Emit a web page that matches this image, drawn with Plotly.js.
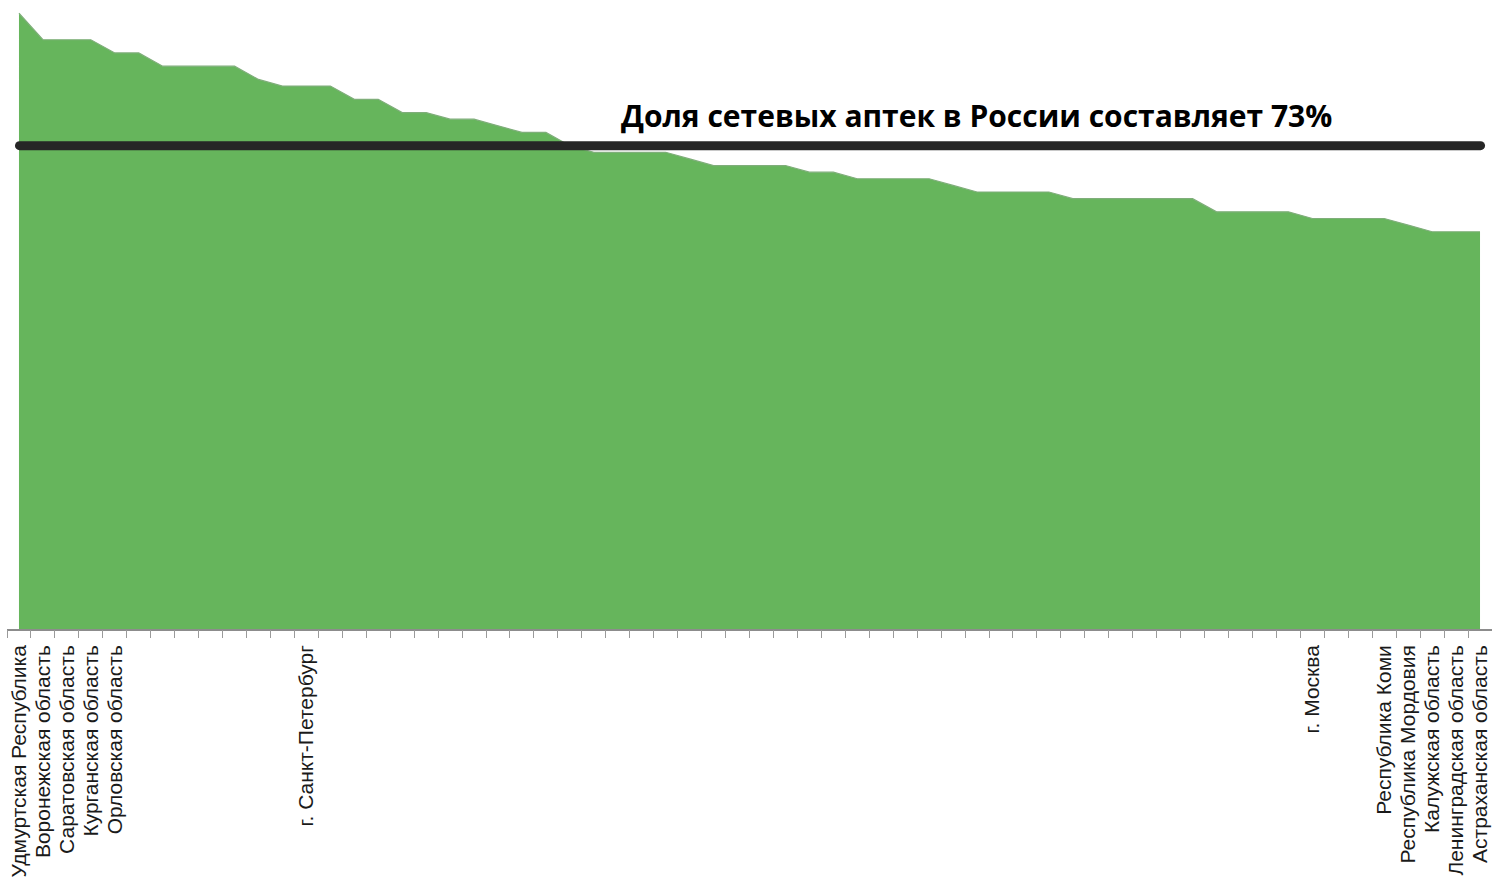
<!DOCTYPE html>
<html>
<head>
<meta charset="utf-8">
<script src="https://cdn.plot.ly/plotly-3.0.1.min.js"></script>
<style>
html,body{margin:0;padding:0;background:#fff;}
#chart{width:1492px;height:883px;}
.shapelayer path{stroke-linecap:round;}
</style>
</head>
<body>
<div id="chart"></div>
<script>
// Regions ordered by share of chain pharmacies (%); only some are labelled on the axis
const regionLabels = [
  "Удмуртская Республика","Воронежская область","Саратовская область","Курганская область","Орловская область",
  "","","","","","","","г. Санкт-Петербург","","","","","","","",
  "","","","","","","","","","","","","","","","","","","","",
  "","","","","","","","","","","","","","","г. Москва","","","Республика Коми","Республика Мордовия","Калужская область",
  "Ленинградская область","Астраханская область"
];
const shareValues = [
  93, 89, 89, 89, 87, 87, 85, 85, 85, 85,
  83, 82, 82, 82, 80, 80, 78, 78, 77, 77,
  76, 75, 75, 73, 72, 72, 72, 72, 71, 70,
  70, 70, 70, 69, 69, 68, 68, 68, 68, 67,
  66, 66, 66, 66, 65, 65, 65, 65, 65, 65,
  63, 63, 63, 63, 62, 62, 62, 62, 61, 60,
  60, 60
];
const russiaAverage = 73;
const titleText = "Доля сетевых аптек в России составляет " + russiaAverage + "%";

const xIdx = shareValues.map((_, i) => i);
const labelledIdx = xIdx.filter(i => regionLabels[i] !== "");
const labelledText = labelledIdx.map(i => regionLabels[i]);

const trace = {
  x: xIdx,
  y: shareValues,
  type: 'scatter',
  mode: 'lines',
  fill: 'tozeroy',
  fillcolor: '#66b55c',
  line: {color: '#7fae7a', width: 1.2, shape: 'linear'},
  hoverinfo: 'x+y',
  showlegend: false
};

const xr = [-0.5, regionLabels.length - 0.5];

const layout = {
  width: 1492,
  height: 883,
  margin: {l: 7, r: 0, t: 0, b: 254},
  paper_bgcolor: '#ffffff',
  plot_bgcolor: '#ffffff',
  showlegend: false,
  xaxis: {
    range: xr,
    tickmode: 'array',
    tickvals: labelledIdx,
    ticktext: labelledText,
    tickangle: -90,
    ticks: '',
    ticklabelstandoff: 6,
    tickfont: {family: 'Liberation Sans, Arial, sans-serif', size: 21, color: '#1a1a1a'},
    showgrid: false,
    zeroline: false,
    showline: true,
    linecolor: '#8c8c8c',
    linewidth: 1.5,
    fixedrange: true
  },
  xaxis2: {
    overlaying: 'x',
    matches: 'x',
    range: xr,
    tickmode: 'linear',
    tick0: -0.5,
    dtick: 1,
    ticks: 'outside',
    ticklen: 8,
    tickcolor: '#9a9a9a',
    tickwidth: 1,
    showticklabels: false,
    showgrid: false,
    zeroline: false,
    showline: false
  },
  yaxis: {
    range: [0, 95],
    visible: false,
    showgrid: false,
    zeroline: false,
    fixedrange: true
  },
  shapes: [{
    type: 'line',
    xref: 'paper', yref: 'y',
    x0: 0.0084, x1: 0.9923,
    y0: russiaAverage, y1: russiaAverage,
    line: {color: '#262626', width: 9}
  }],
  annotations: [{
    text: '<b>' + titleText + '</b>',
    xref: 'paper', yref: 'y',
    x: 0.653, y: russiaAverage,
    yshift: 8,
    xanchor: 'center', yanchor: 'bottom',
    showarrow: false,
    font: {family: 'Open Sans, Noto Sans, sans-serif', size: 30, color: '#000000'}
  }]
};

const dummy = {x: [xr[0]], y: [null], xaxis: 'x2', yaxis: 'y', type: 'scatter', mode: 'lines', showlegend: false, hoverinfo: 'skip'};

Plotly.newPlot('chart', [trace, dummy], layout, {displayModeBar: false, staticPlot: false});
</script>
</body>
</html>
